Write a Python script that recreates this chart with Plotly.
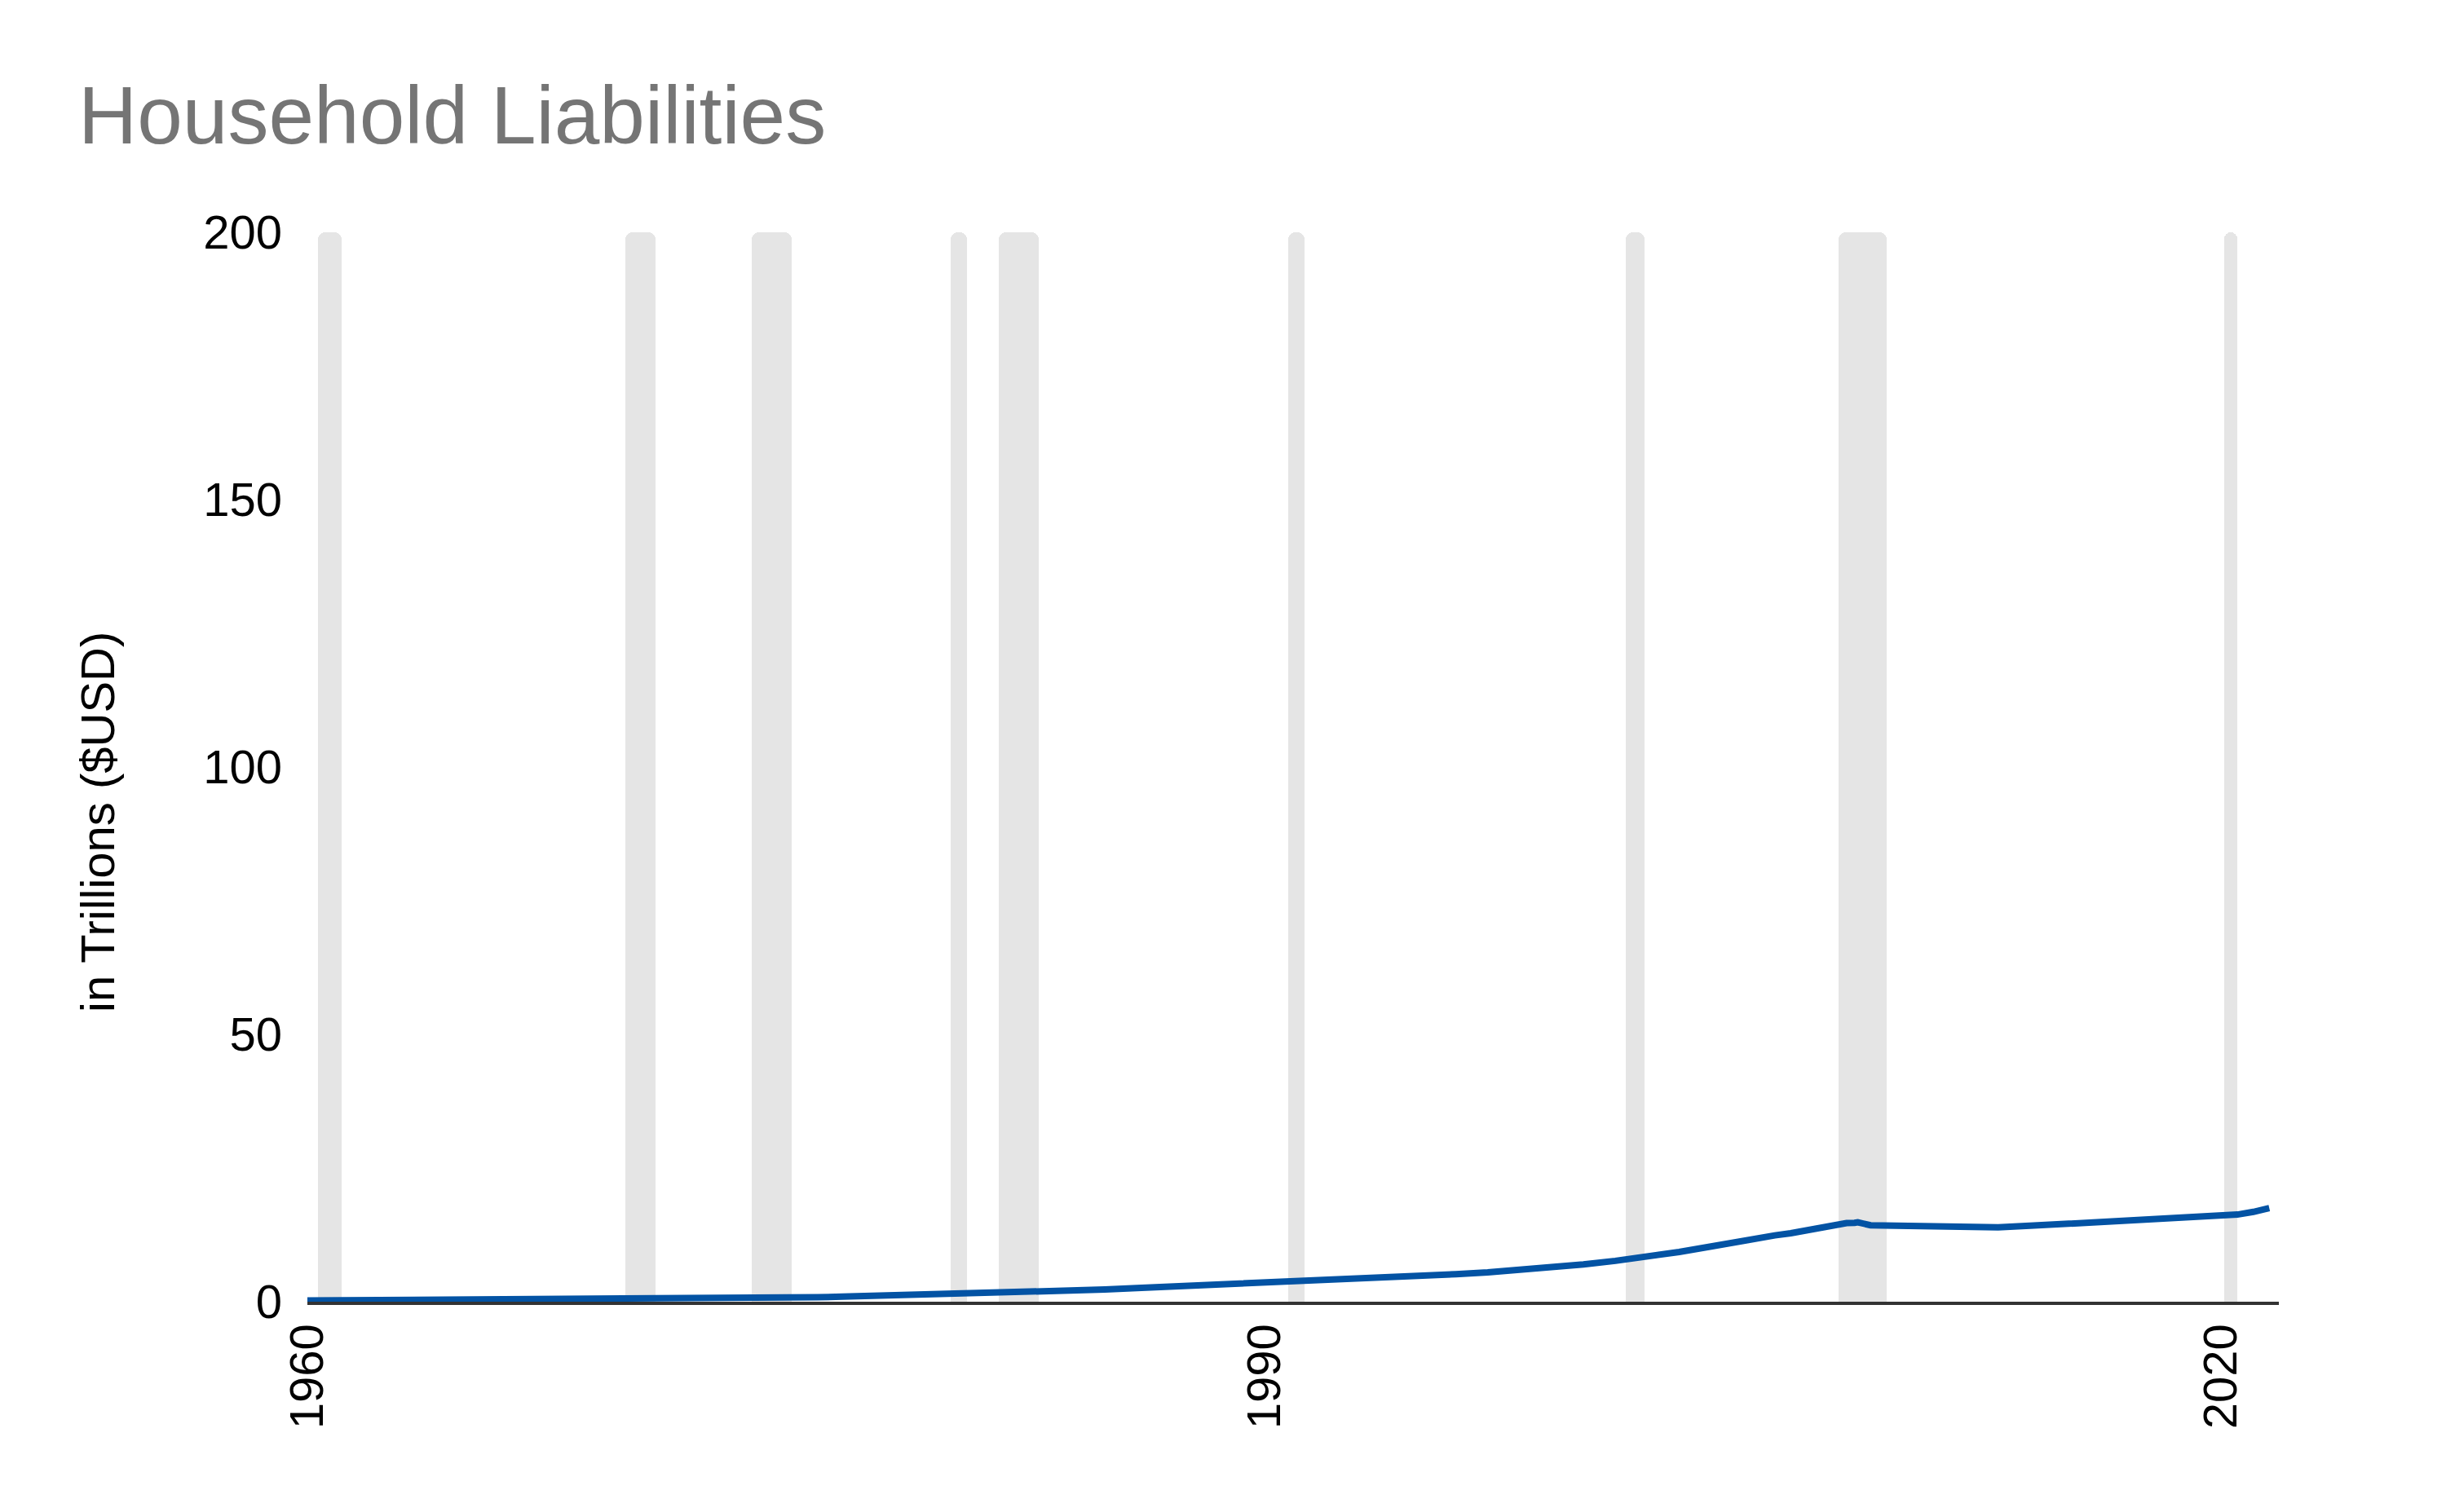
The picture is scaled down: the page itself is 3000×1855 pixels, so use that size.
import plotly.graph_objects as go

# Household liabilities (trillions USD)
years = [1960, 1961, 1962, 1963, 1964, 1965, 1966, 1967, 1968, 1969,
         1970, 1971, 1972, 1973, 1974, 1975, 1976, 1977, 1978, 1979,
         1980, 1981, 1982, 1983, 1984, 1985, 1986, 1987, 1988, 1989,
         1990, 1991, 1992, 1993, 1994, 1995, 1996, 1997, 1998, 1999,
         2000, 2001, 2002, 2003, 2004, 2005, 2006, 2006.5, 2007, 2007.5,
         2008, 2008.25, 2008.5, 2008.6, 2009, 2010, 2011, 2012, 2013, 2014,
         2015, 2016, 2017, 2018, 2019, 2020, 2020.5, 2021, 2021.5]
liabilities = [0.22, 0.24, 0.26, 0.29, 0.32, 0.35, 0.37, 0.39, 0.42, 0.45,
               0.47, 0.52, 0.58, 0.65, 0.70, 0.75, 0.84, 0.98, 1.14, 1.31,
               1.42, 1.53, 1.60, 1.75, 1.95, 2.27, 2.55, 2.79, 3.06, 3.33,
               3.58, 3.76, 3.96, 4.24, 4.54, 4.84, 5.15, 5.48, 5.92, 6.44,
               6.99, 7.64, 8.40, 9.30, 10.32, 11.45, 12.40, 12.80, 13.40, 14.00,
               14.50, 14.70, 14.75, 14.85, 14.30, 14.15, 14.05, 13.90, 13.90, 14.20,
               14.50, 14.80, 15.10, 15.45, 15.85, 16.20, 16.30, 16.80, 17.50]

# Recession periods (start, end) in decimal years
rec_start = [1960.33, 1969.97, 1973.92, 1980.17, 1981.67, 1990.75, 2001.33, 2008.0, 2020.08]
rec_end = [1961.08, 1970.92, 1975.17, 1980.67, 1982.92, 1991.25, 2001.92, 2009.5, 2020.5]

y_ticks = [0, 50, 100, 150, 200]
x_ticks = [1960, 1990, 2020]
x_tick_labels = ["1960", "1990", "2020"]

FONT = "Liberation Sans, Arial, sans-serif"

fig = go.Figure()

fig.add_trace(go.Bar(
    x=[(s + e) / 2 for s, e in zip(rec_start, rec_end)],
    y=[200] * len(rec_start),
    width=[e - s for s, e in zip(rec_start, rec_end)],
    marker=dict(color="#E5E5E5", line=dict(width=0), cornerradius=9),
    hoverinfo="skip",
    showlegend=False,
))

fig.add_trace(go.Scatter(
    x=years, y=liabilities, mode="lines",
    line=dict(color="#0353A4", width=8),
    showlegend=False,
))

fig.update_layout(
    width=3000, height=1855,
    margin=dict(l=369, r=213, t=277, b=266),
    paper_bgcolor="white", plot_bgcolor="white",
    font=dict(family=FONT, size=58, color="black"),
    title=dict(text="Household Liabilities", x=88 / 3000, xanchor="left",
               xref="container", y=1 - 133 / 1855, yanchor="middle",
               yref="container",
               font=dict(family=FONT, size=100, color="#757575")),
    bargap=0,
    xaxis=dict(range=[1960, 2021.8], tickvals=x_ticks, ticktext=x_tick_labels,
               tickangle=-90, showgrid=False, zeroline=False,
               showline=True, linecolor="#333333", linewidth=4,
               ticks="", ticklabelstandoff=0,
               tickfont=dict(family=FONT, size=58, color="black")),
    yaxis=dict(range=[0, 200], tickvals=y_ticks, showgrid=False, zeroline=False,
               showline=False, ticks="", ticklabelstandoff=30,
               tickfont=dict(family=FONT, size=58, color="black")),
    annotations=[dict(text="in Trillions ($USD)", textangle=-90,
                      xref="paper", yref="paper",
                      x=(120 - 377) / 2418, y=(1597 - 1009) / 1312,
                      xanchor="center", yanchor="middle", showarrow=False,
                      font=dict(family=FONT, size=58, color="black"))],
)

fig.write_html("out.html")
